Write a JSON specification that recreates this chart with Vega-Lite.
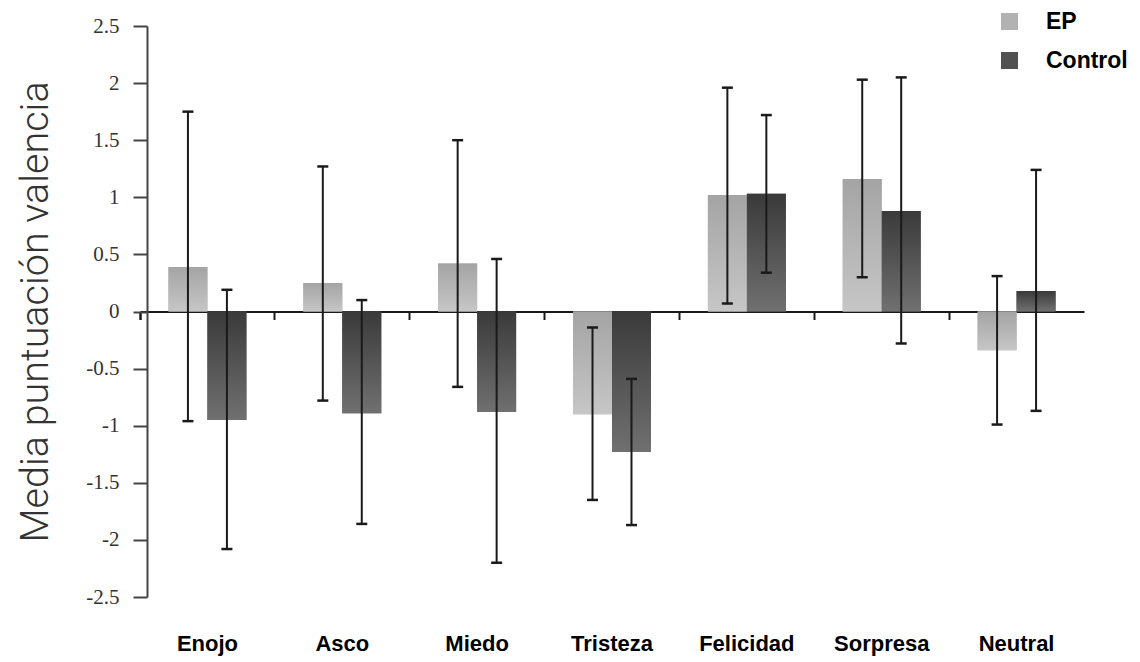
{
  "$schema": "https://vega.github.io/schema/vega-lite/v6.json",
  "width": 944,
  "height": 571,
  "autosize": "none",
  "padding": {"left": 140, "top": 26, "right": 56, "bottom": 65},
  "background": "white",
  "config": {"view": {"stroke": null}},
  "data": {
    "values": [
      {"emocion": "Enojo", "grupo": "EP", "media": 0.39, "alto": 1.75, "bajo": -0.96},
      {"emocion": "Enojo", "grupo": "Control", "media": -0.95, "alto": 0.19, "bajo": -2.08},
      {"emocion": "Asco", "grupo": "EP", "media": 0.25, "alto": 1.27, "bajo": -0.78},
      {"emocion": "Asco", "grupo": "Control", "media": -0.89, "alto": 0.10, "bajo": -1.86},
      {"emocion": "Miedo", "grupo": "EP", "media": 0.42, "alto": 1.50, "bajo": -0.66},
      {"emocion": "Miedo", "grupo": "Control", "media": -0.88, "alto": 0.46, "bajo": -2.20},
      {"emocion": "Tristeza", "grupo": "EP", "media": -0.90, "alto": -0.14, "bajo": -1.65},
      {"emocion": "Tristeza", "grupo": "Control", "media": -1.23, "alto": -0.59, "bajo": -1.87},
      {"emocion": "Felicidad", "grupo": "EP", "media": 1.02, "alto": 1.96, "bajo": 0.07},
      {"emocion": "Felicidad", "grupo": "Control", "media": 1.03, "alto": 1.72, "bajo": 0.34},
      {"emocion": "Sorpresa", "grupo": "EP", "media": 1.16, "alto": 2.03, "bajo": 0.30},
      {"emocion": "Sorpresa", "grupo": "Control", "media": 0.88, "alto": 2.05, "bajo": -0.28},
      {"emocion": "Neutral", "grupo": "EP", "media": -0.34, "alto": 0.31, "bajo": -0.99},
      {"emocion": "Neutral", "grupo": "Control", "media": 0.18, "alto": 1.24, "bajo": -0.87}
    ]
  },
  "resolve": {"axis": {"x": "independent"}},
  "layer": [
    {
      "mark": {"type": "bar", "strokeWidth": 0},
      "encoding": {
        "x": {
          "field": "emocion", "type": "nominal", "sort": null,
          "scale": {"paddingInner": 0, "paddingOuter": 0},
          "axis": {
            "orient": "bottom", "title": null, "domain": false, "ticks": false,
            "labelAngle": 0, "labelPadding": 36, "labelFontSize": 22,
            "labelFont": "Liberation Sans", "labelFontWeight": "bold", "labelColor": "#000"
          }
        },
        "xOffset": {
          "field": "grupo", "type": "nominal", "sort": ["EP", "Control"],
          "scale": {"domain": ["EP", "Control"], "paddingInner": 0, "paddingOuter": 0.73}
        },
        "y": {
          "field": "media", "type": "quantitative",
          "scale": {"domain": [-2.5, 2.5], "nice": false, "zero": true},
          "axis": {
            "title": "Media puntuación valencia",
            "titleFont": "Roboto", "titleFontWeight": 300, "titleFontSize": 39.5,
            "titleColor": "#333", "titlePadding": 30,
            "values": [-2.5, -2, -1.5, -1, -0.5, 0, 0.5, 1, 1.5, 2, 2.5],
            "labelExpr": "toString(datum.value)",
            "labelFont": "Liberation Serif", "labelFontSize": 21, "labelColor": "#333",
            "labelPadding": 14, "tickSize": 14, "tickWidth": 2, "tickColor": "#444",
            "domainColor": "#444", "domainWidth": 2, "grid": false, "offset": -7
          }
        },
        "color": {
          "field": "grupo", "type": "nominal",
          "scale": {"domain": ["EP", "Control"], "range": ["#b2b2b2", "#515151"]},
          "legend": {
            "orient": "none", "legendX": 858, "legendY": -16, "title": null,
            "symbolType": "square", "symbolSize": 289, "symbolStrokeWidth": 0,
            "symbolOpacity": 1,
            "labelFont": "Liberation Sans", "labelFontWeight": "bold", "labelFontSize": 23,
            "labelColor": "#000", "labelOffset": 25, "rowPadding": 15
          }
        }
      }
    },
    {
      "transform": [{"filter": "datum.grupo === 'EP'"}],
      "mark": {
        "type": "bar", "strokeWidth": 0,
        "color": {"gradient": "linear", "x1": 0, "y1": 0, "x2": 0, "y2": 1,
          "stops": [{"offset": 0, "color": "#a4a4a4"}, {"offset": 1, "color": "#c6c6c6"}]}
      },
      "encoding": {
        "x": {"field": "emocion", "type": "nominal", "sort": null, "axis": null},
        "xOffset": {"field": "grupo", "type": "nominal", "sort": ["EP", "Control"]},
        "y": {"field": "media", "type": "quantitative"}
      }
    },
    {
      "transform": [{"filter": "datum.grupo === 'Control'"}],
      "mark": {
        "type": "bar", "strokeWidth": 0,
        "color": {"gradient": "linear", "x1": 0, "y1": 0, "x2": 0, "y2": 1,
          "stops": [{"offset": 0, "color": "#3a3a3a"}, {"offset": 1, "color": "#707070"}]}
      },
      "encoding": {
        "x": {"field": "emocion", "type": "nominal", "sort": null, "axis": null},
        "xOffset": {"field": "grupo", "type": "nominal", "sort": ["EP", "Control"]},
        "y": {"field": "media", "type": "quantitative"}
      }
    },
    {
      "mark": {"type": "rule", "color": "#1a1a1a", "strokeWidth": 2},
      "encoding": {
        "x": {
          "field": "emocion", "type": "nominal", "sort": null,
          "axis": {
            "orient": "bottom", "title": null, "labels": false, "offset": -285.5,
            "domainColor": "#1a1a1a", "domainWidth": 2,
            "tickColor": "#1a1a1a", "tickWidth": 2, "tickSize": 8,
            "bandPosition": 0, "tickExtra": true
          }
        },
        "xOffset": {"field": "grupo", "type": "nominal", "sort": ["EP", "Control"]},
        "y": {"field": "bajo", "type": "quantitative"},
        "y2": {"field": "alto"}
      }
    },
    {
      "mark": {"type": "tick", "color": "#1a1a1a", "size": 11, "thickness": 2.5, "opacity": 1},
      "encoding": {
        "x": {"field": "emocion", "type": "nominal", "sort": null, "axis": null},
        "xOffset": {"field": "grupo", "type": "nominal", "sort": ["EP", "Control"]},
        "y": {"field": "alto", "type": "quantitative"}
      }
    },
    {
      "mark": {"type": "tick", "color": "#1a1a1a", "size": 11, "thickness": 2.5, "opacity": 1},
      "encoding": {
        "x": {"field": "emocion", "type": "nominal", "sort": null, "axis": null},
        "xOffset": {"field": "grupo", "type": "nominal", "sort": ["EP", "Control"]},
        "y": {"field": "bajo", "type": "quantitative"}
      }
    }
  ]
}
